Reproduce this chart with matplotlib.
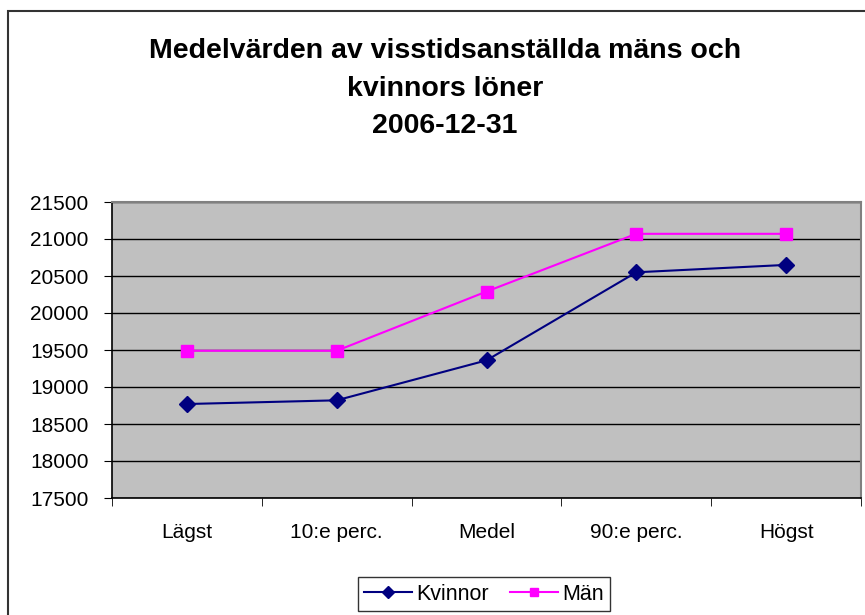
import matplotlib.pyplot as plt
from matplotlib.patches import Rectangle

plt.rcParams['font.family'] = ['Liberation Sans', 'DejaVu Sans']

# Data
categories = ['Lägst', '10:e perc.', 'Medel', '90:e perc.', 'Högst']
kvinnor = [18770, 18820, 19360, 20550, 20650]
man = [19490, 19490, 20290, 21070, 21070]
title_lines = ['Medelvärden av visstidsanställda mäns och', 'kvinnors löner', '2006-12-31']

fig = plt.figure(figsize=(8.65, 6.15), dpi=100)

# outer chart frame (runs off the right and bottom edge)
fig.patches.append(Rectangle((8 / 865, -0.05), 1.0, 1 - 11 / 615 + 0.05,
                             transform=fig.transFigure, fill=False,
                             edgecolor='#333333', linewidth=1.5))

ax = fig.add_axes([112 / 865, 117 / 615, 749 / 865, 296 / 615])
ax.set_facecolor('#C0C0C0')

x = range(len(categories))
ax.plot(x, kvinnor, color='#000080', marker='D', markersize=8, linewidth=1.5, label='Kvinnor')
ax.plot(x, man, color='#FF00FF', marker='s', markersize=8, linewidth=1.5, label='Män')

ax.set_xlim(-0.5, len(categories) - 0.5)
ax.set_ylim(17500, 21500)
ax.set_yticks(range(17500, 21501, 500))
ax.yaxis.grid(True, color='black', linewidth=1)
ax.set_axisbelow(True)

ax.set_xticks(x)
ax.set_xticklabels(categories)
ax.set_xticks([i - 0.5 for i in range(len(categories) + 1)], minor=True)
ax.tick_params(axis='x', which='major', length=0, pad=18, labelsize=15)
ax.tick_params(axis='x', which='minor', length=6, direction='out', color='black')
ax.tick_params(axis='y', length=6, direction='out', pad=11, labelsize=15)

for side in ['top', 'right']:
    ax.spines[side].set_color('#808080')
    ax.spines[side].set_linewidth(1.5)
for side in ['left', 'bottom']:
    ax.spines[side].set_color('black')
    ax.spines[side].set_linewidth(1.2)

for i, line in enumerate(title_lines):
    fig.text(445 / 865, 1 - (51 + i * 37.5) / 615, line, ha='center', va='center',
             fontsize=20.5, fontweight='bold')

leg = fig.legend(loc='center', bbox_to_anchor=(484 / 865, 1 - 594 / 615), ncol=2,
                 fontsize=15.5, frameon=True, fancybox=False, edgecolor='black',
                 handlelength=2.2, handletextpad=0.2, columnspacing=1.0,
                 borderpad=0.3, markerscale=0.8)
leg.get_frame().set_linewidth(1)

fig.savefig('out.png', dpi=100)
